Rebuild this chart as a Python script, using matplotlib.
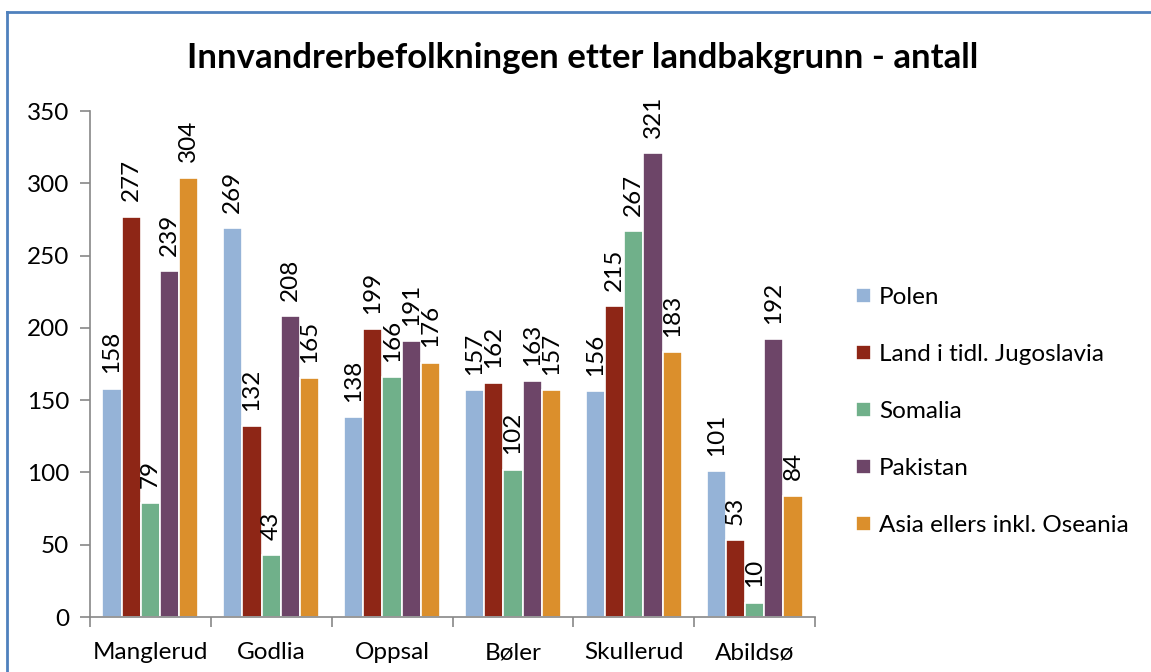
import matplotlib
matplotlib.use("Agg")
import matplotlib.pyplot as plt
import numpy as np
from matplotlib.lines import Line2D

categories = ["Manglerud", "Godlia", "Oppsal", "Bøler", "Skullerud", "Abildsø"]
series_names = ["Polen", "Land i tidl. Jugoslavia", "Somalia", "Pakistan", "Asia ellers inkl. Oseania"]
polen = [158, 269, 138, 157, 156, 101]
jugoslavia = [277, 132, 199, 162, 215, 53]
somalia = [79, 43, 166, 102, 267, 10]
pakistan = [239, 208, 191, 163, 321, 192]
asia = [304, 165, 176, 157, 183, 84]
series_values = [polen, jugoslavia, somalia, pakistan, asia]
colors = ["#95B3D7", "#8E2616", "#70B08A", "#6D4568", "#DB8F2C"]
yticks = [0, 50, 100, 150, 200, 250, 300, 350]

FONT = ["Lato", "DejaVu Sans"]
plt.rcParams['font.family'] = FONT

W, H = 1151, 672
fig = plt.figure(figsize=(W / 100, H / 100), dpi=100)
ax = fig.add_axes([90 / W, 1 - 617 / H, (815 - 90) / W, (617 - 111) / H])

n = len(series_names)
bw = 0.159
x = np.arange(len(categories))
for i, (name, vals, c) in enumerate(zip(series_names, series_values, colors)):
    pos = x + (i - (n - 1) / 2) * bw
    bars = ax.bar(pos, vals, width=bw, color=c, edgecolor="white", linewidth=1.2, label=name)
    for b, v in zip(bars, vals):
        ax.annotate(str(v), (b.get_x() + b.get_width() / 2, v), xytext=(0, 11),
                    textcoords="offset points", rotation=90, ha="center", va="bottom",
                    fontsize=17.5, color="black")

ax.set_xlim(-0.5, len(categories) - 0.5)
ax.set_ylim(0, 350)
ax.set_yticks(yticks)
ax.set_yticklabels([str(t) for t in yticks], fontsize=17.5)
ax.set_xticks(x)
ax.set_xticklabels(categories, fontsize=17.5)
ax.set_xticks(np.arange(-0.5, len(categories), 1), minor=True)
ax.tick_params(axis="x", which="major", length=0, pad=18)
ax.tick_params(axis="x", which="minor", length=7, color="#878787", width=1.2)
ax.tick_params(axis="y", length=7, color="#878787", width=1.2, pad=8)
for s in ["top", "right"]:
    ax.spines[s].set_visible(False)
for s in ["left", "bottom"]:
    ax.spines[s].set_color("#878787")
    ax.spines[s].set_linewidth(1.2)

fig.text(583 / W, 1 - 58 / H, "Innvandrerbefolkningen etter landbakgrunn - antall",
         ha="center", va="center", fontsize=25, fontweight="bold")

handles, labels = ax.get_legend_handles_labels()
leg = fig.legend(handles, labels, loc="upper left", bbox_to_anchor=(856 / W, 1 - 287 / H),
                 frameon=False, fontsize=17.5, handlelength=0.6, handleheight=0.6,
                 handletextpad=0.35, labelspacing=1.48, borderaxespad=0, borderpad=0)

# chart frame
fig.add_artist(Line2D([7 / W, 1.0], [1 - 12 / H, 1 - 12 / H], color="#4F81BD", linewidth=2, transform=fig.transFigure))
fig.add_artist(Line2D([7 / W, 7 / W], [1 - 12 / H, 0.0], color="#4F81BD", linewidth=2, transform=fig.transFigure))

fig.savefig("out.png", dpi=100)
